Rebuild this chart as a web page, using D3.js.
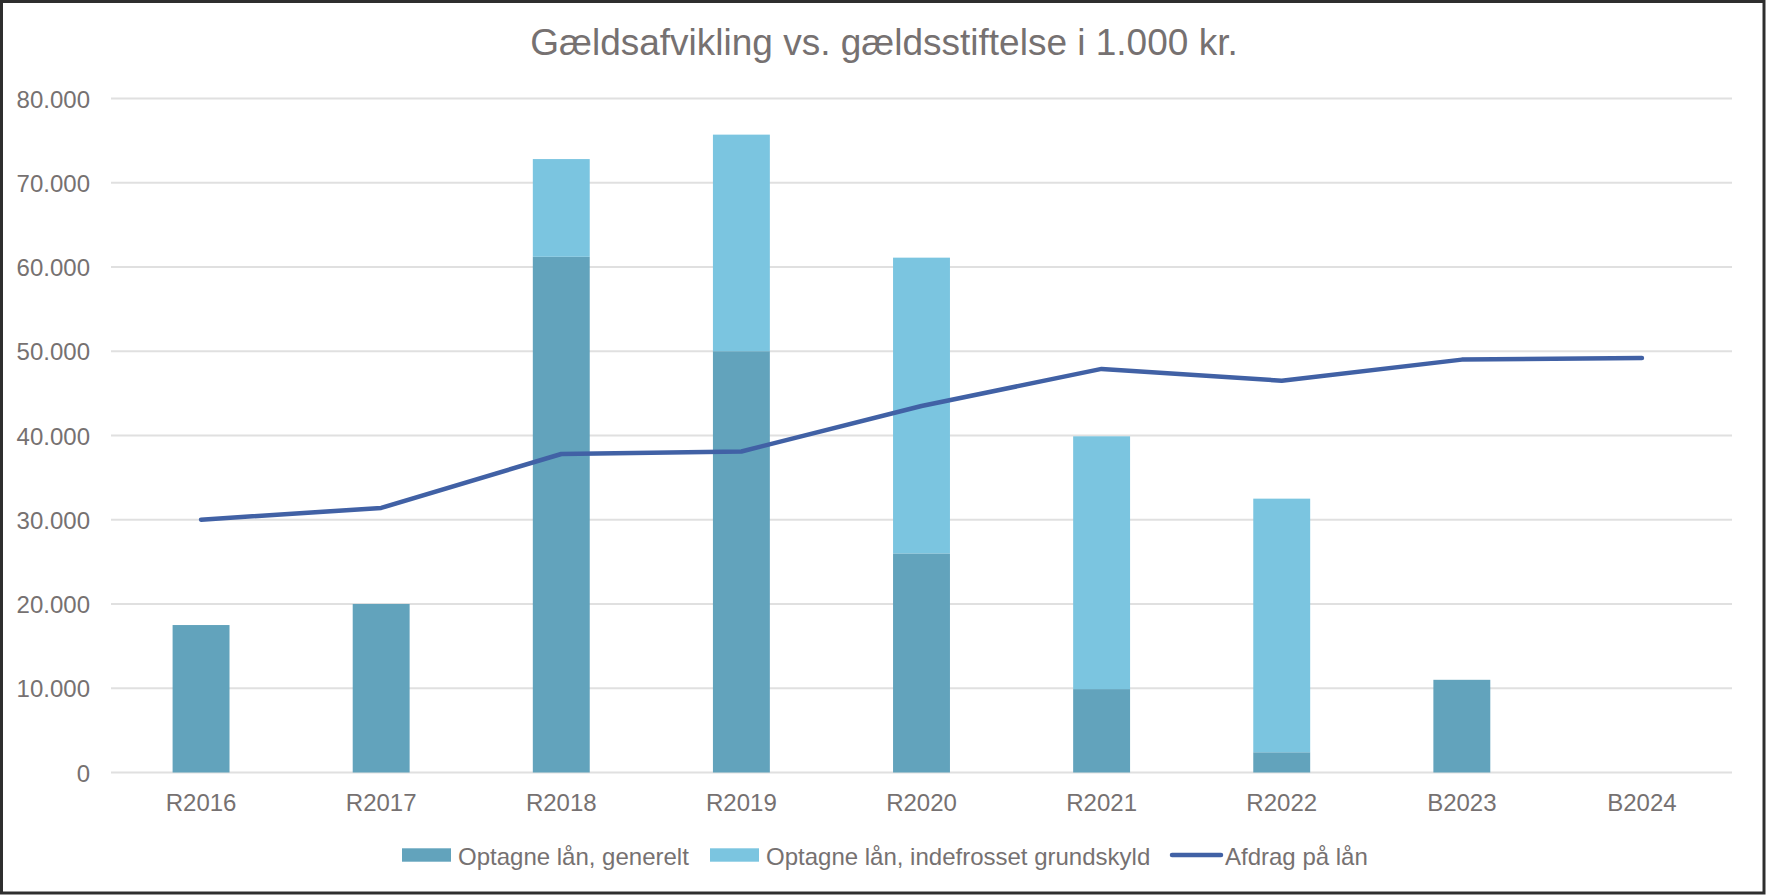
<!DOCTYPE html>
<html>
<head>
<meta charset="utf-8">
<script src="https://cdn.jsdelivr.net/npm/d3@7"></script>
<style>
  html, body { margin: 0; padding: 0; background: #fff; }
  svg { display: block; font-family: "Liberation Sans", Arial, sans-serif; }
</style>
</head>
<body>
<svg id="chart" width="1766" height="895"></svg>
<script>
const categories = ["R2016", "R2017", "R2018", "R2019", "R2020", "R2021", "R2022", "B2023", "B2024"];
const generelt = [17500, 20000, 61200, 50000, 26000, 9900, 2400, 11000, 0];
const indefrosset = [0, 0, 11600, 25700, 35100, 30000, 30100, 0, 0];
const afdrag = [30000, 31400, 37800, 38100, 43500, 47900, 46500, 49000, 49200];
const yTicks = [0, 10000, 20000, 30000, 40000, 50000, 60000, 70000, 80000];
const seriesNames = ["Optagne lån, generelt", "Optagne lån, indefrosset grundskyld", "Afdrag på lån"];

const W = 1766, H = 895;
const plotLeft = 111, plotRight = 1732, plotTop = 98.4, plotBottom = 772.5;
const colDark = "#62a3bc", colLight = "#7bc5e0", colLine = "#4161a5";
const textCol = "#767171";

const svg = d3.select("#chart");
svg.append("rect").attr("x", 0).attr("y", 0).attr("width", W).attr("height", H).attr("fill", "#fff");

const x = d3.scaleBand().domain(categories).range([plotLeft, plotRight]).paddingInner(0.684).paddingOuter(0.342);
const y = d3.scaleLinear().domain([0, 80000]).range([plotBottom, plotTop]);

const locale = d3.formatLocale({ decimal: ",", thousands: ".", grouping: [3], currency: ["", " kr."] });
const fmt = locale.format(",.0f");

// Gridlines
svg.append("g").selectAll("line").data(yTicks).join("line")
  .attr("x1", plotLeft).attr("x2", plotRight)
  .attr("y1", d => y(d)).attr("y2", d => y(d))
  .attr("stroke", "#e0e0e0").attr("stroke-width", 2);

// Y axis labels
const yAxis = d3.axisLeft(y).tickValues(yTicks).tickFormat(fmt).tickSize(0).tickPadding(0);
const yg = svg.append("g").attr("transform", `translate(90,0)`).call(yAxis);
yg.select(".domain").remove();
yg.selectAll("text").attr("fill", textCol).style("font-size", "24px").attr("dy", "0.36em")
  .style("font-family", "'Liberation Sans', Arial, sans-serif");

// Bars
const stack = categories.map((c, i) => ({ c, g: generelt[i], f: indefrosset[i] }));
svg.append("g").selectAll("rect").data(stack).join("rect")
  .attr("x", d => x(d.c)).attr("width", x.bandwidth())
  .attr("y", d => y(d.g)).attr("height", d => y(0) - y(d.g))
  .attr("fill", colDark);
svg.append("g").selectAll("rect").data(stack.filter(d => d.f > 0)).join("rect")
  .attr("x", d => x(d.c)).attr("width", x.bandwidth())
  .attr("y", d => y(d.g + d.f)).attr("height", d => y(d.g) - y(d.g + d.f))
  .attr("fill", colLight);

// Line
const line = d3.line().x((d, i) => x(categories[i]) + x.bandwidth() / 2).y(d => y(d));
svg.append("path").datum(afdrag).attr("d", line)
  .attr("fill", "none").attr("stroke", colLine).attr("stroke-width", 4.5)
  .attr("stroke-linejoin", "round").attr("stroke-linecap", "round");

// X axis labels
const xAxis = d3.axisBottom(x).tickSize(0).tickPadding(0);
const xg = svg.append("g").attr("transform", `translate(0,810.5)`).call(xAxis);
xg.select(".domain").remove();
xg.selectAll("text").attr("fill", textCol).style("font-size", "24px").attr("dy", "0")
  .style("font-family", "'Liberation Sans', Arial, sans-serif");

// Title
svg.append("text").attr("x", 884).attr("y", 55).attr("text-anchor", "middle")
  .attr("fill", textCol).style("font-size", "37px")
  .text("Gældsafvikling vs. gældsstiftelse i 1.000 kr.");

// Legend
const lg = svg.append("g");
const legendItems = [
  { name: seriesNames[0], type: "rect", color: colDark, x: 402 },
  { name: seriesNames[1], type: "rect", color: colLight, x: 710 },
  { name: seriesNames[2], type: "line", color: colLine, x: 1170 }
];
legendItems.forEach(it => {
  if (it.type === "rect") {
    lg.append("rect").attr("x", it.x).attr("y", 848.3).attr("width", 49).attr("height", 13.4).attr("fill", it.color);
    lg.append("text").attr("x", it.x + 56).attr("y", 865).attr("fill", textCol).style("font-size", "24px").text(it.name);
  } else {
    lg.append("line").attr("x1", it.x + 2).attr("x2", it.x + 51).attr("y1", 855).attr("y2", 855)
      .attr("stroke", it.color).attr("stroke-width", 4.5).attr("stroke-linecap", "round");
    lg.append("text").attr("x", it.x + 55).attr("y", 865).attr("fill", textCol).style("font-size", "24px").text(it.name);
  }
});

// Frame
svg.append("rect").attr("x", 1.5).attr("y", 1.5).attr("width", W - 3.5).attr("height", H - 3.5)
  .attr("fill", "none").attr("stroke", "#2e2e2e").attr("stroke-width", 3);
</script>
</body>
</html>
